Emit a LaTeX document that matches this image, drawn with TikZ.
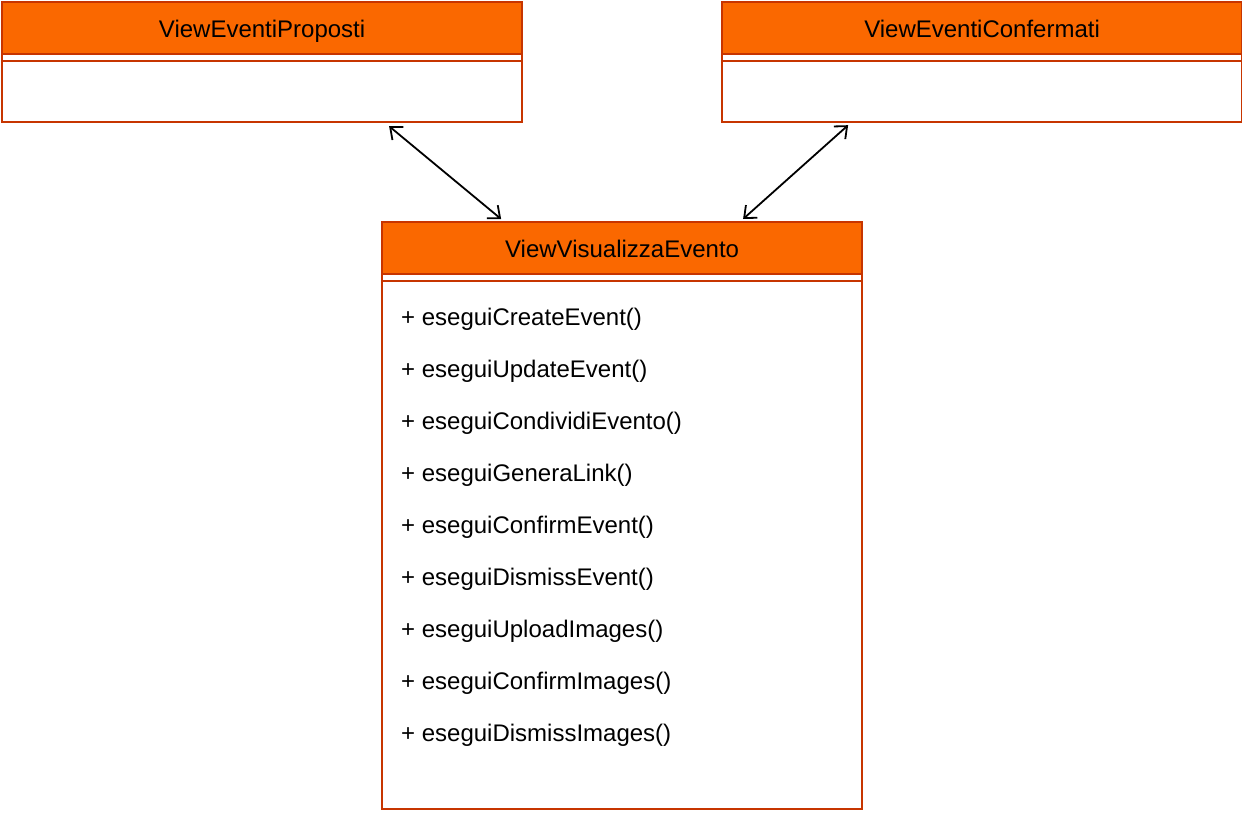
\documentclass[tikz,border=0pt]{standalone}
\usepackage{fontspec}
\setmainfont{Liberation Sans}
\usetikzlibrary{arrows.meta,calc}
\definecolor{orfill}{HTML}{FA6800}
\definecolor{orline}{HTML}{C73500}
\begin{document}
\begin{tikzpicture}[x=1pt,y=-1pt,
  classbox/.style={draw=orline,line width=2.2pt,fill=white,rectangle,inner sep=0pt,anchor=north west,minimum width=520pt},
  hdr/.style={draw=orline,line width=2.2pt,fill=orfill,rectangle,inner sep=0pt,anchor=north west,minimum width=520pt,minimum height=52pt,text height=22pt,text depth=4pt,font=\fontsize{24}{28}\selectfont},
  sep/.style={draw=orline,line width=2.2pt},
  meth/.style={anchor=base west,inner sep=0pt,font=\fontsize{24}{28}\selectfont},
  link/.style={line width=1.8pt,{Straight Barb[length=10pt,width=17pt,line width=1.8pt]}-{Straight Barb[length=10pt,width=17pt,line width=1.8pt]}}]
\useasboundingbox (0,0) rectangle (1242,816);

% ViewEventiProposti
\node[classbox,minimum height=120pt] (p) at (1,1) {};
\node[hdr] (ph) at (1,1) {ViewEventiProposti};
\draw[sep] ($(p.north west)+(0,60)$) -- ($(p.north east)+(0,60)$);

% ViewEventiConfermati
\node[classbox,minimum height=120pt] (c) at (721,1) {};
\node[hdr] (ch) at (721,1) {ViewEventiConfermati};
\draw[sep] ($(c.north west)+(0,60)$) -- ($(c.north east)+(0,60)$);

% ViewVisualizzaEvento
\node[classbox,minimum width=480pt,minimum height=587pt] (v) at (381,221) {};
\node[hdr,minimum width=480pt,text height=23pt] (vh) at (381,221) {ViewVisualizzaEvento};
\draw[sep] ($(v.north west)+(0,60)$) -- ($(v.north east)+(0,60)$);

\node[meth] (m1) at (401,325) {+ eseguiCreateEvent()};
\node[meth] (m2) at (401,377) {+ eseguiUpdateEvent()};
\node[meth] (m3) at (401,429) {+ eseguiCondividiEvento()};
\node[meth] (m4) at (401,481) {+ eseguiGeneraLink()};
\node[meth] (m5) at (401,533) {+ eseguiConfirmEvent()};
\node[meth] (m6) at (401,585) {+ eseguiDismissEvent()};
\node[meth] (m7) at (401,637) {+ eseguiUploadImages()};
\node[meth] (m8) at (401,689) {+ eseguiConfirmImages()};
\node[meth] (m9) at (401,741) {+ eseguiDismissImages()};

% connectors
\draw[link] ([xshift=127pt,yshift=-3pt]p.south) -- ([xshift=-121pt,yshift=2pt]v.north);
\draw[link] ([xshift=-134pt,yshift=-2pt]c.south) -- ([xshift=121pt,yshift=2pt]v.north);
\end{tikzpicture}
\end{document}
